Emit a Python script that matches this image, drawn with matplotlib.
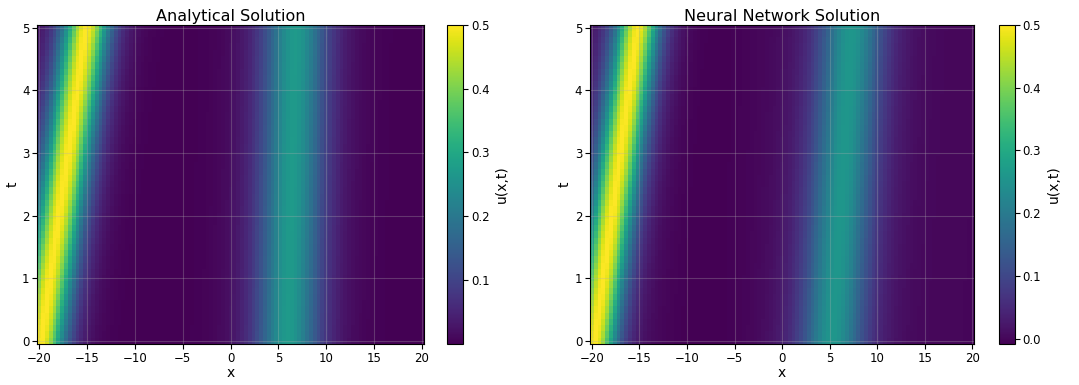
import numpy as np
import matplotlib
matplotlib.use("Agg")
import matplotlib.pyplot as plt

# grid of the solution
x_lim = (-20, 20)
t_lim = (0, 5)
n_x, n_t = 101, 51

# waves: start position, speed, height, width factor
ana_start = [-19.8, 6.0]
ana_speed = [0.94, 0.16]
ana_height = [0.5, 0.27]
ana_k = [0.43, 0.31]

nn_start = [-19.7, 5.3]
nn_speed = [0.90, 0.40]
nn_height = [0.5, 0.26]
nn_k = [0.46, 0.31]

# small negative dip seen in the network output (colorbar reaches below 0)
nn_dip_x, nn_dip_depth, nn_dip_width = -8.0, -0.008, 5.0

titles = ["Analytical Solution", "Neural Network Solution"]

x = np.linspace(*x_lim, n_x)
t = np.linspace(*t_lim, n_t)
X, T = np.meshgrid(x, t)


def field(start, speed, height, k):
    u = np.zeros_like(X)
    for s, v, h, kk in zip(start, speed, height, k):
        u += h / np.cosh(kk * (X - s - v * T)) ** 2
    return u


u_ana = field(ana_start, ana_speed, ana_height, ana_k)
u_nn = field(nn_start, nn_speed, nn_height, nn_k)
u_nn += nn_dip_depth * np.exp(-((X - nn_dip_x) / nn_dip_width) ** 2)

fig = plt.figure(figsize=(10.79, 3.85), dpi=100)
W, H = 1079, 385
bottom, height = (H - 344) / H, 319.3 / H
ax_boxes = [[37.3 / W, bottom, 386.4 / W, height],
            [590 / W, bottom, 384.3 / W, height]]
cb_boxes = [[447.3 / W, bottom, 16 / W, height],
            [998.7 / W, bottom, 16.3 / W, height]]

for u, title, ab, cb in zip([u_ana, u_nn], titles, ax_boxes, cb_boxes):
    ax = fig.add_axes(ab)
    cax = fig.add_axes(cb)
    pcm = ax.pcolormesh(X, T, u, cmap="viridis", shading="auto",
                        vmin=u.min(), vmax=0.5, antialiased=True)
    ax.grid(True, alpha=0.3)
    ax.set_title(title, fontsize=11.5, pad=3)
    ax.set_xlabel("x", fontsize=10, labelpad=1)
    ax.set_ylabel("t", fontsize=10, labelpad=2)
    ax.tick_params(labelsize=8.5, pad=2)
    cbar = fig.colorbar(pcm, cax=cax)
    cbar.set_label("u(x,t)", fontsize=10)
    cbar.ax.tick_params(labelsize=8.5, pad=2)

fig.savefig("out.png", dpi=100)
